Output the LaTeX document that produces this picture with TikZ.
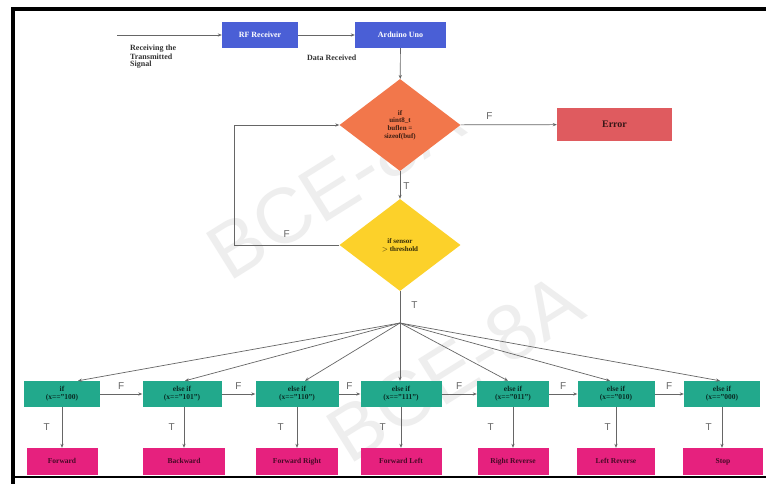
\documentclass[tikz,border=0pt]{standalone}
\usepackage{fontspec}
\setmainfont{Liberation Serif}
\newfontfamily\labelfont{Liberation Sans}
\usetikzlibrary{shapes.geometric,arrows.meta}
\definecolor{rxblue}{HTML}{4A5FD6}
\definecolor{decorange}{HTML}{F2774B}
\definecolor{errred}{HTML}{DF5B5F}
\definecolor{decyellow}{HTML}{FCD12A}
\definecolor{condteal}{HTML}{22A98C}
\definecolor{actpink}{HTML}{E6217E}
\definecolor{linegray}{HTML}{666666}
\definecolor{marktext}{HTML}{EEEEEE}
\tikzset{
  flow/.style={draw=linegray, line width=0.7pt, -{Stealth[length=4pt,width=3.2pt]}},
  plain/.style={draw=linegray, line width=0.7pt},
  rxbox/.style={rectangle, fill=rxblue, minimum width=#1, minimum height=26, inner sep=1,
    text height=6, text depth=1.5,
    font=\fontsize{8}{9}\selectfont\bfseries, text=white},
  condbox/.style={rectangle, fill=condteal, minimum width=#1, minimum height=26, inner sep=1,
    align=center, font=\fontsize{7.5}{8}\selectfont\bfseries, text=black!75!condteal},
  actbox/.style={rectangle, fill=actpink, minimum width=#1, minimum height=27, inner sep=1,
    text height=5.5, text depth=1.5,
    font=\fontsize{7.5}{8}\selectfont\bfseries, text=black!70!actpink},
  decision/.style={diamond, inner sep=0, minimum width=121, minimum height=92, align=center,
    font=\fontsize{7}{7.6}\selectfont\bfseries},
  tf/.style={font=\labelfont\fontsize{10}{10}\selectfont, text=linegray, inner sep=0},
  note/.style={font=\fontsize{8}{7}\selectfont\bfseries, text=black!80, inner sep=0, align=left},
  watermark/.style={font=\labelfont\fontsize{78}{78}\selectfont, text=marktext, rotate=32}
}
\begin{document}
\begin{tikzpicture}[x=1pt,y=-1pt]
  \useasboundingbox (0,0) rectangle (766,484);
  \fill[white] (0,0) rectangle (766,484);

  % background stamp text
  \node[watermark] (wmA) at (335,185) {BCE-8A};
  \node[watermark] (wmB) at (455,368) {BCE-8A};

  % frame
  \draw[line width=4pt] (766,9) -- (13,9) -- (13,484);
  \draw[line width=1.2pt] (13,477) -- (766,477);

  % receiver chain
  \coordinate (src) at (117,35);
  \node[rxbox=76] (rf) at (260,35) {RF Receiver};
  \node[rxbox=91] (uno) at (400.5,35) {Arduino Uno};
  \draw[flow] (src) -- (rf);
  \draw[flow] (rf) -- (uno);
  \node[note, anchor=north west] (recv) at (130,45) {Receiving the\\Transmitted\\Signal};
  \node[note, anchor=west] (drx) at (307,58) {Data Received};

  % checks
  \node[decision, fill=decorange, text=black!75!decorange] (chk) at (400,125)
    {if\\uint8\_t\\buflen =\\sizeof(buf)};
  \node[rectangle, fill=errred, minimum width=115, minimum height=33,
    font=\fontsize{10}{10}\selectfont\bfseries, text=black!75!errred] (err) at (614.5,124.5) {Error};
  \node[decision, fill=decyellow, text=black!80!decyellow] (sens) at (400,245)
    {if sensor\\ $>$ threshold};

  \draw[flow] (uno) -- (chk);
  \draw[flow] (chk) -- node[tf, above=5pt, pos=0.3] {F} (err);
  \draw[flow] (chk) -- node[tf, right=3pt, pos=0.55] {T} (sens);
  \coordinate (loopL) at (234,245);
  \draw[flow] (sens.west) -- node[tf, above=7pt, pos=0.5] {F} (loopL) |- (chk.west);

  % command dispatch
  \coordinate (hub) at (400,323);
  \draw[plain] (sens.south) -- node[tf, right=11pt, pos=0.45] {T} (hub);

  \node[condbox=76] (g1) at (62,394)  {if\\(x==''100)};
  \node[condbox=79] (g2) at (182,394) {else if\\(x==''101'')};
  \node[condbox=83] (g3) at (297,394) {else if\\(x==''110'')};
  \node[condbox=81] (g4) at (401,394) {else if\\(x==''111'')};
  \node[condbox=72] (g5) at (513,394) {else if\\(x==''011'')};
  \node[condbox=77] (g6) at (616,394) {else if\\(x==''010)};
  \node[condbox=76] (g7) at (722,394) {else if\\(x==''000)};

  \node[actbox=71] (m1) at (62,461.5)  {Forward};
  \node[actbox=82] (m2) at (184,461.5) {Backward};
  \node[actbox=82] (m3) at (297,461.5) {Forward Right};
  \node[actbox=81] (m4) at (401,461.5) {Forward Left};
  \node[actbox=71] (m5) at (513,461.5) {Right Reverse};
  \node[actbox=78] (m6) at (616,461.5) {Left Reverse};
  \node[actbox=80] (m7) at (723,461.5) {Stop};

  % fan-out to each condition
  \draw[flow] (hub) -- ([xshift=16pt]g1.north);
  \draw[flow] (hub) -- ([xshift=3pt]g2.north);
  \draw[flow] (hub) -- ([xshift=8pt]g3.north);
  \draw[flow] (hub) -- (g4.north -| hub);
  \draw[flow] (hub) -- ([xshift=-5pt]g5.north);
  \draw[flow] (hub) -- ([xshift=-6pt]g6.north);
  \draw[flow] (hub) -- ([xshift=-2pt]g7.north);

  % false chain
  \draw[flow] (g1) -- node[tf, above=4pt] {F} (g2);
  \draw[flow] (g2) -- node[tf, above=4pt] {F} (g3);
  \draw[flow] (g3) -- node[tf, above=4pt] {F} (g4);
  \draw[flow] (g4) -- node[tf, above=4pt] {F} (g5);
  \draw[flow] (g5) -- node[tf, above=4pt] {F} (g6);
  \draw[flow] (g6) -- node[tf, above=4pt] {F} (g7);

  % true branches
  \draw[flow] (g1.south) -- node[tf, left=12pt] {T} (m1.north -| g1.south);
  \draw[flow] (g2.south -| m2.north) -- node[tf, left=9pt] {T} (m2.north);
  \draw[flow] (g3.south) -- node[tf, left=13pt] {T} (m3.north -| g3.south);
  \draw[flow] (g4.south) -- node[tf, left=15pt] {T} (m4.north -| g4.south);
  \draw[flow] (g5.south) -- node[tf, left=19pt] {T} (m5.north -| g5.south);
  \draw[flow] (g6.south) -- node[tf, left=5pt] {T} (m6.north -| g6.south);
  \draw[flow] (g7.south) -- node[tf, left=10pt] {T} (m7.north -| g7.south);
\end{tikzpicture}
\end{document}
